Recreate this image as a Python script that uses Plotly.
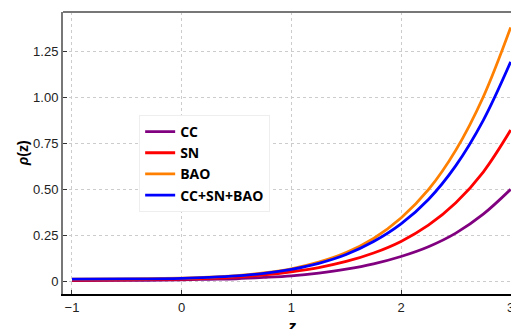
import plotly.graph_objects as go

# Redshift grid and the energy-density curves for each data combination
z = [-1.0, -0.5, 0.0, 0.25, 0.5, 0.75, 1.0, 1.25, 1.5, 1.75, 2.0, 2.25, 2.5, 2.75, 3.0]
rho_cc = [0.004, 0.005, 0.008, 0.011, 0.014, 0.021, 0.030, 0.045, 0.066, 0.095, 0.135,
          0.188, 0.262, 0.365, 0.500]
rho_sn = [0.006, 0.008, 0.012, 0.016, 0.023, 0.035, 0.052, 0.075, 0.108, 0.154, 0.217,
          0.305, 0.427, 0.594, 0.822]
rho_bao = [0.012, 0.013, 0.017, 0.022, 0.031, 0.046, 0.068, 0.104, 0.156, 0.233, 0.344,
           0.498, 0.713, 1.002, 1.380]
rho_all = [0.012, 0.013, 0.016, 0.021, 0.029, 0.043, 0.065, 0.098, 0.146, 0.216, 0.312,
           0.445, 0.629, 0.875, 1.193]

series_names = ["CC", "SN", "BAO", "CC+SN+BAO"]
series_values = [rho_cc, rho_sn, rho_bao, rho_all]
series_colors = ["#800080", "#ff0000", "#ff8000", "#0000ff"]

x_ticks = [-1, 0, 1, 2, 3]
y_ticks = [0, 0.25, 0.5, 0.75, 1.0, 1.25]
y_tick_text = ["0", "0.25", "0.50", "0.75", "1.00", "1.25"]

fig = go.Figure()
for name, vals, color in zip(series_names, series_values, series_colors):
    fig.add_trace(go.Scatter(
        x=z, y=vals, name=name, mode="lines",
        line=dict(color=color, width=2.8, shape="spline", smoothing=1.0),
    ))

tick_font = dict(family="Liberation Sans, Arial, sans-serif", size=13, color="#222222")
title_font = dict(family="Liberation Sans, Arial, sans-serif", color="black")

fig.update_layout(
    template="none",
    width=511, height=329,
    margin=dict(l=63, r=0, t=12, b=35),
    paper_bgcolor="white", plot_bgcolor="white",
    showlegend=True,
    legend=dict(
        x=0.17, y=0.635, xanchor="left", yanchor="top",
        bgcolor="white", bordercolor="#eeeeee", borderwidth=1,
        font=dict(family="Open Sans, sans-serif", size=14, color="black", weight="bold"),
        itemwidth=30,
    ),
    xaxis=dict(
        range=[-1.082, 3.003], tickvals=x_ticks, automargin=False,
        ticklabeloverflow="allow",
        showgrid=True, gridcolor="#cccccc", griddash="dot", gridwidth=1,
        zeroline=False,
        showline=True, linecolor="black", linewidth=2,
        ticks="inside", ticklen=4, tickcolor="#333333",
        tickfont=tick_font,
    ),
    yaxis=dict(
        range=[-0.069, 1.464], tickvals=y_ticks, ticktext=y_tick_text, automargin=False,
        showgrid=True, gridcolor="#cccccc", griddash="dot", gridwidth=1,
        zeroline=False,
        showline=True, linecolor="#777777", linewidth=2,
        ticks="inside", ticklen=4, tickcolor="#333333",
        tickfont=tick_font,
    ),
    shapes=[dict(type="line", xref="paper", yref="paper", x0=0, x1=1, y0=1, y1=1,
                 line=dict(color="#777777", width=2))],
    annotations=[
        dict(text="<b><i>z</i></b>", xref="paper", yref="paper", x=0.51, y=-0.078,
             xanchor="center", yanchor="top", showarrow=False,
             font=dict(size=16, **title_font)),
        dict(text="<b><i>ρ</i>(z)</b>", xref="paper", yref="paper", x=-0.089, y=0.5,
             xanchor="center", yanchor="middle", textangle=-90, showarrow=False,
             font=dict(size=14, **title_font)),
    ],
)

fig.write_html("out.html")
